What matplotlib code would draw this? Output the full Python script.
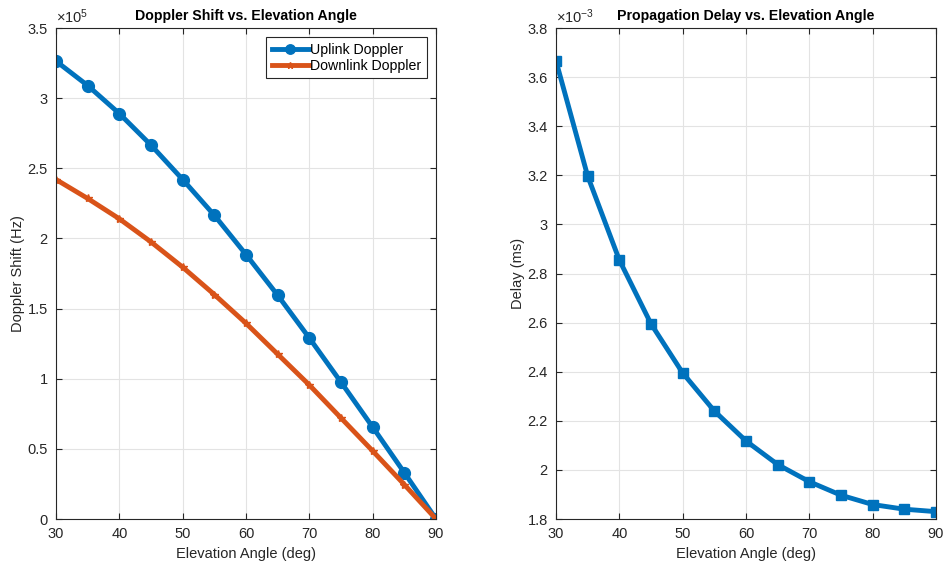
import matplotlib
matplotlib.use("Agg")
import matplotlib.pyplot as plt
from matplotlib.ticker import FuncFormatter

# --------------------------------------------------
# Data
# --------------------------------------------------
elevation_deg = [30, 35, 40, 45, 50, 55, 60, 65, 70, 75, 80, 85, 90]
uplink_doppler = [3.264e5, 3.09e5, 2.89e5, 2.665e5, 2.42e5, 2.165e5, 1.885e5,
                  1.595e5, 1.29e5, 0.975e5, 0.655e5, 0.33e5, 0.0]
downlink_doppler = [2.42e5, 2.285e5, 2.14e5, 1.975e5, 1.795e5, 1.60e5, 1.395e5,
                    1.175e5, 0.955e5, 0.72e5, 0.485e5, 0.245e5, 0.0]
delay_ms = [3.666e-3, 3.197e-3, 2.855e-3, 2.595e-3, 2.395e-3, 2.24e-3, 2.118e-3,
            2.022e-3, 1.952e-3, 1.897e-3, 1.859e-3, 1.84e-3, 1.83e-3]

# --------------------------------------------------
# Style (MATLAB-like)
# --------------------------------------------------
BLUE = "#0072BD"
ORANGE = "#D95319"
AX_COLOR = "#262626"

plt.rcParams["font.family"] = ["Liberation Sans", "DejaVu Sans"]
plt.rcParams["mathtext.fontset"] = "custom"
plt.rcParams["mathtext.rm"] = "Liberation Sans"
plt.rcParams["mathtext.it"] = "Liberation Sans"


def style_axes(ax):
    ax.grid(True, color="#e3e3e3", linewidth=0.8)
    ax.set_axisbelow(True)
    for s in ax.spines.values():
        s.set_color(AX_COLOR)
        s.set_linewidth(0.8)
    ax.tick_params(direction="in", top=True, right=True, labelsize=10.5,
                   colors=AX_COLOR, length=4, width=0.8, pad=6)


fig = plt.figure(figsize=(9.43, 5.66), dpi=100)

# --------------------------------------------------
# Left: Doppler shift
# --------------------------------------------------
ax1 = fig.add_axes([0.0594, 0.083, 0.403, 0.8675])
ax1.plot(elevation_deg, uplink_doppler, color=BLUE, linewidth=3.5,
         marker="o", markersize=8.5, label="Uplink Doppler")
ax1.plot(elevation_deg, downlink_doppler, color=ORANGE, linewidth=3.5,
         marker="*", markersize=6, label="Downlink Doppler")
ax1.set_xlim(30, 90)
ax1.set_ylim(0, 3.5e5)
ax1.set_xticks(range(30, 91, 10))
ax1.set_yticks([i * 0.5e5 for i in range(8)])
ax1.yaxis.set_major_formatter(FuncFormatter(lambda v, p: "%g" % round(v / 1e5, 3)))
style_axes(ax1)
ax1.set_title("Doppler Shift vs. Elevation Angle", fontsize=10.2, fontweight="bold",
              color="black", pad=6)
ax1.set_xlabel("Elevation Angle (deg)", fontsize=10.5, color=AX_COLOR)
ax1.set_ylabel("Doppler Shift (Hz)", fontsize=10.5, color=AX_COLOR, labelpad=2)
ax1.text(0.0, 1.005, r"$\times10^{5}$", transform=ax1.transAxes, fontsize=10.5,
         color=AX_COLOR, ha="left", va="bottom")
leg = ax1.legend(loc="upper right", fontsize=10.2, handlelength=2.6,
                 handletextpad=0.1, labelspacing=0.15, markerscale=0.8,
                 fancybox=False, framealpha=1, borderpad=0.4, borderaxespad=0,
                 bbox_to_anchor=(0.976, 0.982))
leg.get_frame().set_edgecolor(AX_COLOR)
leg.get_frame().set_linewidth(0.8)

# --------------------------------------------------
# Right: propagation delay
# --------------------------------------------------
ax2 = fig.add_axes([0.5896, 0.083, 0.403, 0.8675])
ax2.plot(elevation_deg, delay_ms, color=BLUE, linewidth=3.5,
         marker="s", markersize=7)
ax2.set_xlim(30, 90)
ax2.set_ylim(1.8e-3, 3.8e-3)
ax2.set_xticks(range(30, 91, 10))
ax2.set_yticks([(1.8 + 0.2 * i) * 1e-3 for i in range(11)])
ax2.yaxis.set_major_formatter(FuncFormatter(lambda v, p: "%g" % round(v * 1e3, 3)))
style_axes(ax2)
ax2.set_title("Propagation Delay vs. Elevation Angle", fontsize=10.2, fontweight="bold",
              color="black", pad=6)
ax2.set_xlabel("Elevation Angle (deg)", fontsize=10.5, color=AX_COLOR)
ax2.set_ylabel("Delay (ms)", fontsize=10.5, color=AX_COLOR, labelpad=2)
ax2.text(0.0, 1.005, r"$\times10^{-3}$", transform=ax2.transAxes, fontsize=10.5,
         color=AX_COLOR, ha="left", va="bottom")

fig.savefig("out.png", dpi=100)
plt.close(fig)
